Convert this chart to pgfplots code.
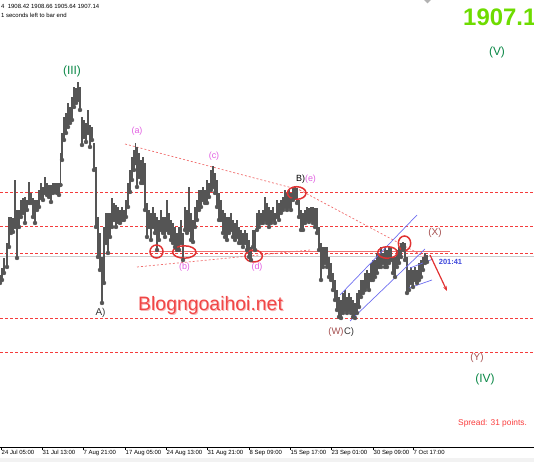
\documentclass[border=0pt]{standalone}
\usepackage{fontspec}
\setmainfont{Liberation Sans}
\usepackage{pgfplots}
\pgfplotsset{compat=1.18}
\usepackage{pgfplotstable}
\usetikzlibrary{arrows.meta}
\definecolor{candle}{RGB}{85,85,85}
\definecolor{lvlred}{RGB}{245,60,60}
\definecolor{trired}{RGB}{240,110,110}
\definecolor{ellred}{RGB}{225,50,50}
\definecolor{chblue}{RGB}{110,110,240}
\definecolor{wgreen}{RGB}{10,135,70}
\definecolor{wmag}{RGB}{225,95,225}
\definecolor{wbrown}{RGB}{165,80,80}
\definecolor{bigg}{RGB}{110,220,0}
\definecolor{blogred}{RGB}{240,70,70}

\pgfplotstableread{
x lo hi
0 1877 1885
2 1880 1892
4 1887 1902
7 1893 1917
9 1913 1943
11 1927 1943
13 1928 1942
15 1933 1980
17 1902 1950
19 1933 1950
21 1943 1960
23 1947 1962
25 1937 1963
27 1950 1960
29 1957 1978
31 1957 1967
33 1943 1962
35 1937 1960
37 1950 1960
39 1953 1970
41 1962 1977
43 1960 1973
45 1967 1983
47 1965 1977
49 1963 1975
51 1958 1975
53 1967 1977
55 1968 1977
57 1967 1977
59 1965 1977
60.5 1975 2007
62 2000 2027
64 2020 2043
66 2027 2047
68 2033 2057
70 2037 2053
72 2040 2063
74 2053 2073
76 2057 2072
78 2060 2078
80 2050 2073
82 2015 2043
84 2023 2040
86 2018 2037
88 2027 2050
90 2013 2035
92 2020 2033
94 1990 2017
96 1933 1993
98 1903 1943
100 1890 1927
102 1857 1903
104 1877 1933
106 1917 1947
108 1907 1947
110 1923 1947
112 1933 1962
114 1940 1957
116 1933 1955
118 1938 1953
120 1937 1950
122 1940 1953
124 1940 1950
126 1943 1960
128 1953 1977
130 1968 1990
132 1980 2003
134 1990 2010
135.5 1997 2017
137 1973 2013
139 1983 2007
141 1977 2000
143 1977 2003
145 1950 1997
147 1923 1957
149 1933 1950
151 1920 1947
153 1933 1953
155 1927 1947
157 1910 1943
159 1920 1940
161 1930 1950
163 1927 1943
165 1923 1943
167 1930 1960
169 1927 1947
171 1920 1940
173 1917 1937
175 1913 1933
177 1910 1927
179 1910 1933
181 1917 1940
183 1900 1927
185 1930 1953
187 1927 1950
189 1930 1973
191 1920 1947
193 1918 1940
195 1933 1953
197 1940 1960
199 1950 1970
201 1953 1970
203 1960 1973
205 1957 1970
207 1957 1980
209 1963 1977
211 1970 1990
213 1973 1994
215 1967 1987
217 1953 1980
219 1940 1967
221 1940 1960
223 1927 1950
225 1923 1947
227 1920 1943
229 1927 1943
231 1930 1947
233 1923 1940
235 1920 1937
237 1923 1940
239 1917 1933
241 1917 1930
243 1913 1927
245 1917 1930
247 1910 1927
249 1903 1920
251 1900 1913
253 1913 1930
255 1910 1930
257 1930 1947
259 1933 1950
261 1937 1947
263 1937 1950
265 1940 1963
267 1937 1957
269 1933 1953
271 1937 1950
273 1940 1953
275 1937 1947
277 1943 1960
279 1940 1957
281 1947 1960
283 1950 1963
285 1953 1970
287 1950 1967
289 1953 1970
291 1950 1967
293 1960 1972
295 1963 1974
297 1957 1972
299 1943 1960
301 1930 1950
303 1930 1947
305 1937 1950
307 1940 1953
309 1938 1952
311 1940 1953
313 1937 1953
315 1933 1952
317 1927 1952
319 1910 1933
321 1880 1917
323 1893 1913
325 1897 1913
327 1893 1913
329 1883 1903
331 1880 1897
333 1870 1887
335 1860 1880
337 1850 1870
339 1843 1863
341 1842 1860
343 1847 1867
345 1850 1870
347 1847 1863
349 1850 1867
351 1847 1863
353 1843 1860
355 1842 1857
357 1847 1867
359 1853 1870
361 1863 1880
363 1867 1880
365 1870 1887
367 1873 1890
369 1870 1887
371 1880 1897
373 1880 1900
375 1883 1900
377 1887 1907
379 1893 1907
381 1893 1913
383 1897 1907
385 1893 1913
387 1893 1910
389 1897 1913
391 1900 1913
393 1887 1903
395 1883 1903
397 1893 1910
399 1897 1913
401 1903 1917
403 1910 1918
405 1900 1917
407 1867 1903
409 1870 1890
411 1877 1893
413 1873 1890
415 1880 1893
417 1877 1890
419 1880 1897
421 1883 1900
423 1890 1903
425 1897 1907
427 1898 1905
}\candles

\begin{document}
\begin{tikzpicture}
\fill[gray!10] (0,0) rectangle (534bp,4bp);
\begin{axis}[
  at={(0,15bp)}, anchor=south west,
  scale only axis, width=534bp, height=447bp,
  xmin=0, xmax=534, ymin=1713, ymax=2160,
  axis x line*=bottom, hide y axis, clip=false,
  axis line style={black, line width=0.8bp},
  xtick={1,42,83,125,166,207,249,290,331,373,413},
  xticklabels={24 Jul 05:00,31 Jul 13:00,7 Aug 21:00,17 Aug 05:00,24 Aug 13:00,31 Aug 21:00,8 Sep 09:00,15 Sep 17:00,23 Sep 01:00,30 Sep 09:00,7 Oct 17:00},
  tick align=outside, major tick length=3bp,
  tick style={black, line width=0.6bp},
  xticklabel style={anchor=north west, font=\fontsize{6}{7}\selectfont, inner sep=0.5bp, yshift=0.5bp},
]
% horizontal levels
\addplot[lvlred, line width=0.9bp, dash pattern=on 3bp off 2bp] coordinates {(0,1968) (534,1968)};
\addplot[lvlred, line width=0.9bp, dash pattern=on 3bp off 2bp] coordinates {(0,1933.5) (534,1933.5)};
\addplot[lvlred, line width=0.9bp, dash pattern=on 3bp off 2bp] coordinates {(0,1906.7) (534,1906.7)};
\addplot[lvlred, line width=0.9bp, dash pattern=on 3bp off 2bp] coordinates {(0,1841.5) (534,1841.5)};
\addplot[lvlred, line width=0.9bp, dash pattern=on 3bp off 2bp] coordinates {(0,1807.7) (534,1807.7)};
\addplot[gray!40, line width=1bp] coordinates {(0,1903) (534,1903)};
\addplot[trired, line width=1.6bp] coordinates {(150,1908.3) (450,1908.3)};
% triangle lines
\addplot[trired, line width=0.7bp, dash pattern=on 2bp off 2bp] coordinates {(125,2016) (300,1970)};
\addplot[trired, line width=0.7bp, dash pattern=on 2bp off 2bp] coordinates {(296,1972) (427,1902)};
\addplot[trired, line width=0.7bp, dash pattern=on 2bp off 2bp] coordinates {(137,1893) (310,1910)};
% candles
\addplot[candle, only marks, mark=none, forget plot,
  error bars/.cd, y dir=plus, y explicit, error mark=none,
  error bar style={line width=1.2bp, solid, candle, line cap=butt}]
  table[x=x, y=lo, y error expr=\thisrow{hi}-\thisrow{lo}] {\candles};
% channel lines
\addplot[chblue, line width=0.7bp] coordinates {(340,1865) (417,1945)};
\addplot[chblue, line width=0.7bp] coordinates {(350,1839) (425,1911)};
\addplot[chblue, line width=0.7bp] coordinates {(410,1892) (433,1901)};
\addplot[chblue, line width=0.7bp] coordinates {(409,1872) (432,1880)};
% arrow
\addplot[ellred, line width=1.2bp, -{Stealth[length=5bp]}] coordinates {(430,1905) (447,1869)};
% ellipses
\draw[ellred, line width=1.5bp] (axis cs:156.5,1908.5) ellipse [x radius=6.5bp, y radius=6.5bp];
\draw[ellred, line width=1.5bp] (axis cs:184.3,1908) ellipse [x radius=11.7bp, y radius=6.2bp];
\draw[ellred, line width=1.5bp] (axis cs:253.7,1904) ellipse [x radius=8.7bp, y radius=6bp];
\draw[ellred, line width=1.5bp] (axis cs:296.7,1967) ellipse [x radius=9.3bp, y radius=6.3bp];
\draw[ellred, line width=1.5bp] (axis cs:387.5,1907.5) ellipse [x radius=9.8bp, y radius=5.8bp];
\draw[ellred, line width=1.5bp] (axis cs:404.5,1916.7) ellipse [x radius=6.2bp, y radius=7.3bp];
% wave labels
\node[text=wgreen, font=\fontsize{12}{12}\selectfont, inner sep=0] at (axis cs:72,2088.5) {(III)};
\node[text=wgreen, font=\fontsize{12}{12}\selectfont, inner sep=0] at (axis cs:497,2107.5) {(V)};
\node[text=wgreen, font=\fontsize{12}{12}\selectfont, inner sep=0] at (axis cs:485,1781) {(IV)};
\node[text=wmag, font=\fontsize{9}{9}\selectfont, inner sep=0] at (axis cs:137,2029) {(a)};
\node[text=wmag, font=\fontsize{9}{9}\selectfont, inner sep=0] at (axis cs:214,2003.5) {(c)};
\node[text=wmag, font=\fontsize{9}{9}\selectfont, inner sep=0] at (axis cs:184.5,1892.5) {(b)};
\node[text=wmag, font=\fontsize{9}{9}\selectfont, inner sep=0] at (axis cs:257,1893) {(d)};
\node[text=black, font=\fontsize{9}{9}\selectfont, inner sep=0] at (axis cs:300.5,1981) {B)};
\node[text=wmag, font=\fontsize{9}{9}\selectfont, inner sep=0] at (axis cs:310.5,1981) {(e)};
\node[text=black!80, font=\fontsize{10}{10}\selectfont, inner sep=0] at (axis cs:100.5,1847.5) {A)};
\node[text=wbrown, font=\fontsize{9.5}{9.5}\selectfont, inner sep=0] at (axis cs:336,1828) {(W)};
\node[text=black!80, font=\fontsize{9.5}{9.5}\selectfont, inner sep=0] at (axis cs:349,1828) {C)};
\node[text=wbrown, font=\fontsize{10}{10}\selectfont, inner sep=0] at (axis cs:435,1927) {(X)};
\node[text=wbrown, font=\fontsize{10}{10}\selectfont, inner sep=0] at (axis cs:477,1802) {(Y)};
\node[text={rgb,255:red,60;green,70;blue,220}, font=\bfseries\fontsize{7.5}{7.5}\selectfont, inner sep=0] at (axis cs:450.5,1898) {201:41};
% watermark
\node[text=blogred!40, font=\fontsize{19.5}{20}\selectfont, inner sep=0, anchor=base west] at (axis cs:139,1848.3) {Blogngoaihoi.net};
\node[text=blogred, font=\fontsize{19.5}{20}\selectfont, inner sep=0, anchor=base west] at (axis cs:138,1849.3) {Blogngoaihoi.net};
% price and info texts
\node[text=bigg, font=\bfseries\fontsize{24}{24}\selectfont, inner sep=0, anchor=base west] at (axis cs:463,2134) {1907.14};
\node[text={rgb,255:red,250;green,60;blue,60}, font=\fontsize{8.4}{9}\selectfont, inner sep=0, anchor=west] at (axis cs:458,1736.5) {Spread: 31 points.};
\node[text=black, font=\fontsize{6}{7}\selectfont, inner sep=0, anchor=west] at (axis cs:1,2153.3) {4\ \ 1908.42 1908.66 1905.64 1907.14};
\node[text=black, font=\fontsize{6}{7}\selectfont, inner sep=0, anchor=west] at (axis cs:1,2144.5) {1 seconds left to bar end};
\end{axis}
\fill[gray!60] (424bp,462bp) -- (431bp,462bp) -- (427.5bp,458.5bp) -- cycle;
\pgfresetboundingbox
\path[use as bounding box] (0,0) rectangle (534bp,462bp);
\end{tikzpicture}
\end{document}
